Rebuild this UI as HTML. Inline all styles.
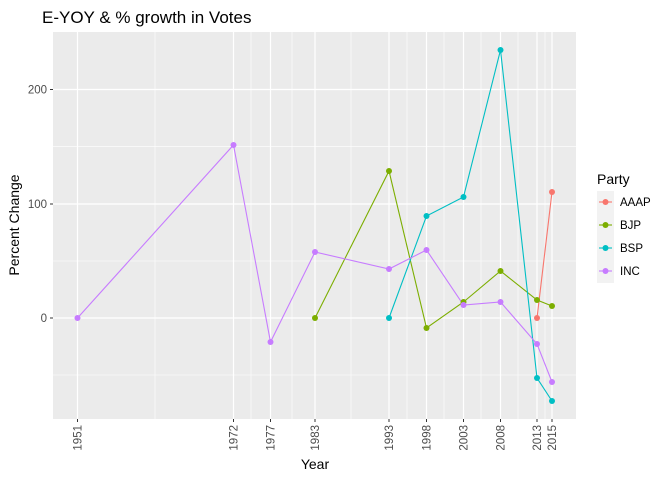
<!DOCTYPE html>
<html><head><style>body{margin:0;background:#fff}</style></head><body>
<svg width="672" height="480" xmlns="http://www.w3.org/2000/svg" font-family="Liberation Sans, sans-serif">
<rect width="672" height="480" fill="#fff"/>
<text x="42" y="23" font-size="17" fill="#000">E-YOY &amp; % growth in Votes</text>
<rect x="53" y="32" width="523" height="387" fill="#EBEBEB"/>
<g stroke="#fff" stroke-width="0.6">
<line x1="53" x2="576" y1="146.6" y2="146.6"/><line x1="53" x2="576" y1="261" y2="261"/><line x1="53" x2="576" y1="375" y2="375"/>
<line x1="155" x2="155" y1="32" y2="419"/><line x1="251" x2="251" y1="32" y2="419"/><line x1="292" x2="292" y1="32" y2="419"/>
<line x1="351" x2="351" y1="32" y2="419"/><line x1="407" x2="407" y1="32" y2="419"/><line x1="444" x2="444" y1="32" y2="419"/>
<line x1="481" x2="481" y1="32" y2="419"/><line x1="518" x2="518" y1="32" y2="419"/><line x1="545" x2="545" y1="32" y2="419"/>
</g>
<g stroke="#fff" stroke-width="1.2">
<line x1="53" x2="576" y1="89.5" y2="89.5"/><line x1="53" x2="576" y1="204" y2="204"/><line x1="53" x2="576" y1="318" y2="318"/>
<line x1="77.5" x2="77.5" y1="32" y2="419"/><line x1="233.5" x2="233.5" y1="32" y2="419"/><line x1="270.5" x2="270.5" y1="32" y2="419"/>
<line x1="315" x2="315" y1="32" y2="419"/><line x1="389" x2="389" y1="32" y2="419"/><line x1="426.5" x2="426.5" y1="32" y2="419"/>
<line x1="463.5" x2="463.5" y1="32" y2="419"/><line x1="500.5" x2="500.5" y1="32" y2="419"/><line x1="537" x2="537" y1="32" y2="419"/><line x1="552" x2="552" y1="32" y2="419"/>
</g>
<g stroke="#333" stroke-width="1">
<line x1="50" x2="53" y1="89.5" y2="89.5"/><line x1="50" x2="53" y1="204" y2="204"/><line x1="50" x2="53" y1="318" y2="318"/>
<line x1="77.5" x2="77.5" y1="419" y2="422"/><line x1="233.5" x2="233.5" y1="419" y2="422"/><line x1="270.5" x2="270.5" y1="419" y2="422"/><line x1="315" x2="315" y1="419" y2="422"/><line x1="389" x2="389" y1="419" y2="422"/><line x1="426.5" x2="426.5" y1="419" y2="422"/><line x1="463.5" x2="463.5" y1="419" y2="422"/><line x1="500.5" x2="500.5" y1="419" y2="422"/><line x1="537" x2="537" y1="419" y2="422"/><line x1="552" x2="552" y1="419" y2="422"/>
</g>
<g font-size="11.5" fill="#4D4D4D" text-anchor="end">
<text x="47" y="93.5">200</text><text x="47" y="208">100</text><text x="47" y="322">0</text>
</g>
<g font-size="11.5" fill="#4D4D4D" text-anchor="end">
<text transform="translate(81.5,425) rotate(-90)">1951</text>
<text transform="translate(237.5,425) rotate(-90)">1972</text>
<text transform="translate(274.5,425) rotate(-90)">1977</text>
<text transform="translate(319,425) rotate(-90)">1983</text>
<text transform="translate(393,425) rotate(-90)">1993</text>
<text transform="translate(430.5,425) rotate(-90)">1998</text>
<text transform="translate(467.5,425) rotate(-90)">2003</text>
<text transform="translate(504.5,425) rotate(-90)">2008</text>
<text transform="translate(541,425) rotate(-90)">2013</text>
<text transform="translate(556,425) rotate(-90)">2015</text>
</g>
<text x="315" y="469" font-size="14" text-anchor="middle">Year</text>
<text transform="translate(19,225) rotate(-90)" font-size="14" text-anchor="middle">Percent Change</text>
<g fill="none" stroke-width="1.1">
<polyline stroke="#F8766D" points="537,318 552,192"/>
<polyline stroke="#7CAE00" points="315,318 389,171 426.5,328 463.5,302 500.5,271 537,300 552,306"/>
<polyline stroke="#00BFC4" points="389,318 426.5,216 463.5,197 500.5,50 537,378 552,401"/>
<polyline stroke="#C77CFF" points="77.5,318 233.5,145 270.5,342 315,252 389,269 426.5,250 463.5,305 500.5,302 537,344 552,382"/>
</g>
<g fill="#F8766D"><circle cx="537" cy="318" r="3"/><circle cx="552" cy="192" r="3"/></g>
<g fill="#7CAE00"><circle cx="315" cy="318" r="3"/><circle cx="389" cy="171" r="3"/><circle cx="426.5" cy="328" r="3"/><circle cx="463.5" cy="302" r="3"/><circle cx="500.5" cy="271" r="3"/><circle cx="537" cy="300" r="3"/><circle cx="552" cy="306" r="3"/></g>
<g fill="#00BFC4"><circle cx="389" cy="318" r="3"/><circle cx="426.5" cy="216" r="3"/><circle cx="463.5" cy="197" r="3"/><circle cx="500.5" cy="50" r="3"/><circle cx="537" cy="378" r="3"/><circle cx="552" cy="401" r="3"/></g>
<g fill="#C77CFF"><circle cx="77.5" cy="318" r="3"/><circle cx="233.5" cy="145" r="3"/><circle cx="270.5" cy="342" r="3"/><circle cx="315" cy="252" r="3"/><circle cx="389" cy="269" r="3"/><circle cx="426.5" cy="250" r="3"/><circle cx="463.5" cy="305" r="3"/><circle cx="500.5" cy="302" r="3"/><circle cx="537" cy="344" r="3"/><circle cx="552" cy="382" r="3"/></g>
<text x="597" y="184" font-size="14">Party</text>
<rect x="597" y="191" width="17" height="92" fill="#F2F2F2"/>
<g stroke-width="1.1">
<line x1="599" x2="612" y1="202" y2="202" stroke="#F8766D"/><circle cx="605.5" cy="202" r="3" fill="#F8766D"/>
<line x1="599" x2="612" y1="225" y2="225" stroke="#7CAE00"/><circle cx="605.5" cy="225" r="3" fill="#7CAE00"/>
<line x1="599" x2="612" y1="248" y2="248" stroke="#00BFC4"/><circle cx="605.5" cy="248" r="3" fill="#00BFC4"/>
<line x1="599" x2="612" y1="271" y2="271" stroke="#C77CFF"/><circle cx="605.5" cy="271" r="3" fill="#C77CFF"/>
</g>
<g font-size="11.5" fill="#000">
<text x="620" y="206">AAAP</text><text x="620" y="229">BJP</text><text x="620" y="252">BSP</text><text x="620" y="275">INC</text>
</g>
</svg>
</body></html>
